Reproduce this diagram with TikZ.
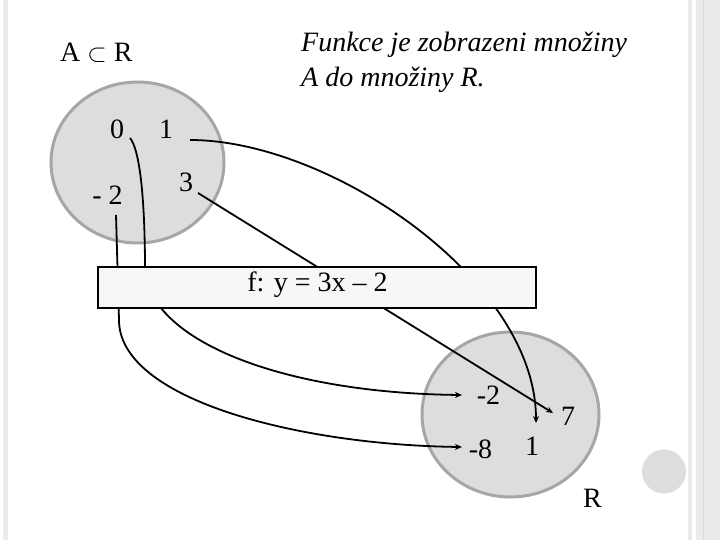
\documentclass[tikz,border=0pt]{standalone}
\usepackage{fontspec}
\setmainfont{Liberation Serif}
\usetikzlibrary{arrows.meta,shapes.geometric}
\definecolor{setfill}{HTML}{DDDDDD}
\definecolor{setedge}{HTML}{A6A6A6}
\definecolor{boxfill}{HTML}{F7F7F7}
\definecolor{stripcol}{HTML}{EBEBEB}
\definecolor{stripline}{HTML}{DCDCDC}
\begin{document}
\begin{tikzpicture}[x=1pt,y=-1pt,
  setnode/.style={ellipse, fill=setfill, draw=setedge, line width=3pt, inner sep=0pt},
  num/.style={font=\fontsize{28}{32}\selectfont, inner sep=0pt, anchor=base},
  title/.style={font=\fontsize{28}{34}\selectfont\itshape, inner sep=0pt, anchor=base west},
  conn/.style={line width=1.8pt, -{Stealth[length=7pt,width=6pt]}},
  fbox/.style={rectangle, fill=boxfill, draw=black, line width=1.2pt, inner sep=0pt}]
\useasboundingbox (0,0) rectangle (720,540);
% slide background
\fill[white] (0,0) rectangle (720,540);
\fill[stripcol] (3,0) rectangle (8,540);
\fill[stripcol] (688,0) rectangle (692,540);
\fill[stripcol] (696,0) rectangle (720,540);
\draw[stripline, line width=0.8pt] (703,0) -- (703,540);
% sets
\node[setnode, minimum width=173pt, minimum height=161pt] (setA) at (137.5,162.5) {};
\node[setnode, minimum width=177pt, minimum height=165pt] (setR) at (510.5,414.5) {};
\node[circle, fill=setfill, minimum size=44pt, inner sep=0pt] (deco) at (664,471.5) {};
% labels
\node[num, anchor=base west] (AR) at (60,62) {A $\subset$ R};
\node[title] (t1) at (301,52) {Funkce je zobrazeni množiny};
\node[title] (t2) at (301,87) {A do množiny R.};
% elements of A
\node[num] (a0) at (117,139) {0};
\node[num] (a1) at (166,139) {1};
\node[num] (a3) at (186,192) {3};
\node[num] (am2) at (107.5,205) {- 2};
% elements of R
\node[num] (rm2) at (488.5,404) {-2};
\node[num] (r7) at (568,425) {7};
\node[num] (rm8) at (480.5,458) {-8};
\node[num] (r1) at (532,455) {1};
\node[num] (Rlab) at (592.5,507) {R};
% connector ends
\coordinate (s0) at (130,138);
\coordinate (s1) at (190,140);
\coordinate (s3) at (198,193);
\coordinate (sm2) at (116,215);
\coordinate (em2) at (462,395);
\coordinate (em8) at (462,447);
\coordinate (e1) at (536,423);
\coordinate (e7) at (553,413);
% connectors
\draw[conn] (s0) .. controls (140,150) and (145,200) .. (145,270)
  .. controls (150,340) and (280,393) .. (em2);
\draw[conn] (sm2) -- (119,320) .. controls (119,400) and (300,445) .. (em8);
\draw[conn] (s1) .. controls (330,140) and (536,280) .. (e1);
\draw[conn] (s3) -- (e7);
% function box
\node[fbox, minimum width=438pt, minimum height=41pt] (fbox) at (317,287.5) {};
\node[num] (ftext) at (317.5,291) {f: y = 3x – 2};
\end{tikzpicture}
\end{document}
